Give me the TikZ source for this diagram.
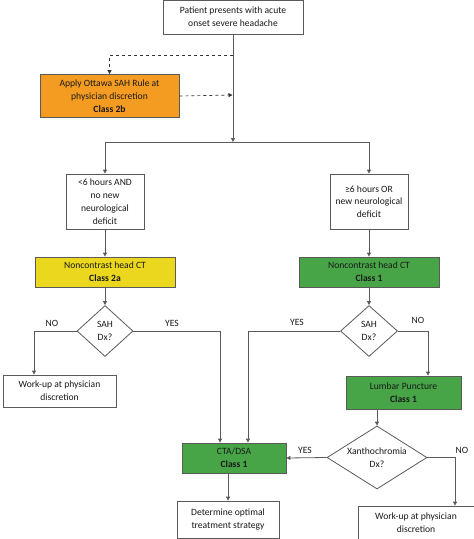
\documentclass[tikz,border=0pt]{standalone}
\usepackage{fontspec}
\setmainfont{Carlito}
\usetikzlibrary{shapes.geometric,arrows.meta}
\definecolor{lineC}{HTML}{5A5A5A}
\definecolor{dashC}{HTML}{333333}
\definecolor{orangeC}{HTML}{F49B22}
\definecolor{yellowC}{HTML}{EAD71E}
\definecolor{greenC}{HTML}{47A447}
\definecolor{txtC}{HTML}{1A1A1A}
\begin{document}
\begin{tikzpicture}[x=1pt,y=-1pt,
  font=\fontsize{9.6}{12.8}\selectfont, text=txtC,
  box/.style={draw=lineC, line width=0.8pt, align=center, inner sep=1pt, fill=white},
  dia/.style={draw=lineC, line width=0.8pt, diamond, align=center, inner sep=0pt, fill=white},
  conn/.style={draw=lineC, line width=0.8pt, -{Triangle[length=4pt,width=4pt]}},
  dconn/.style={draw=dashC, line width=0.7pt, dashed, -{Triangle[length=4pt,width=4pt]}},
  lbl/.style={inner sep=0pt}]
\useasboundingbox (0,0) rectangle (474,539);
\node[box, minimum width=140pt, minimum height=34pt] (top) at (233,17) {Patient presents with acute\\onset severe headache};
\node[box, fill=orangeC, minimum width=139pt, minimum height=43pt] (ott) at (109.5,96) {Apply Ottawa SAH Rule at\\physician discretion\\\textbf{Class 2b}};
\node[box, minimum width=78pt, minimum height=55pt] (lbox) at (105,201.5) {<6 hours AND\\no new\\neurological\\deficit};
\node[box, minimum width=78pt, minimum height=55pt] (rbox) at (369,201.5) {≥6 hours OR\\new neurological\\deficit};
\node[box, fill=yellowC, minimum width=140pt, minimum height=30pt] (ctl) at (105,272) {Noncontrast head CT\\\textbf{Class 2a}};
\node[box, fill=greenC, minimum width=140pt, minimum height=30pt] (ctr) at (369,272) {Noncontrast head CT\\\textbf{Class 1}};
\node[dia, minimum width=56pt, minimum height=51pt, aspect=1.1] (dl) at (105,331) {SAH\\Dx?};
\node[dia, minimum width=57pt, minimum height=51pt, aspect=1.1] (dr) at (369,331) {SAH\\Dx?};
\node[box, minimum width=113pt, minimum height=32pt] (wl) at (59.5,391) {Work-up at physician\\discretion};
\node[box, fill=greenC, minimum width=115pt, minimum height=33pt] (lp) at (403.5,392.5) {Lumbar Puncture\\\textbf{Class 1}};
\node[box, fill=greenC, minimum width=104pt, minimum height=30pt] (cta) at (234,458) {CTA/DSA\\\textbf{Class 1}};
\node[dia, minimum width=100pt, minimum height=63pt, aspect=1.59] (dx) at (377,457.5) {Xanthochromia\\Dx?};
\node[box, minimum width=102pt, minimum height=37pt] (det) at (228,519.5) {Determine optimal\\treatment strategy};
\node[box, minimum width=116pt, minimum height=34pt] (wr) at (416,523) {Work-up at physician\\discretion};
\coordinate (J) at (233,142);
\coordinate (d1) at (233,55);
\coordinate (d2) at (232.5,95);
% connectors
\draw[conn] (top.south) -- (J);
\draw[conn] (J) -| (lbox.north);
\draw[conn] (J) -| (rbox.north);
\draw[dconn] (d1) -| (ott.north);
\draw[dconn] (ott.east) -- (d2);
\draw[conn] (lbox.south) -- (ctl.north);
\draw[conn] (rbox.south) -- (ctr.north);
\draw[conn] (ctl.south) -- (dl.north);
\draw[conn] (ctr.south) -- (dr.north);
\draw[conn] (dl.west) -| (wl.north -| 34,0);
\draw[conn] (dl.east) -| ([xshift=-14pt]cta.north);
\draw[conn] (dr.west) -| ([xshift=14pt]cta.north);
\draw[conn] (dr.east) -| ([xshift=24.5pt]lp.north);
\draw[conn] (lp.south -| dx.north) -- (dx.north);
\draw[conn] (dx.west) -- (cta.east);
\draw[conn] (dx.east) -| ([xshift=39pt]wr.north);
\draw[conn] (cta.south -| det.north) -- (det.north);
% labels
\node[lbl] (nol) at (52,323) {NO};
\node[lbl] (yesl) at (172,323) {YES};
\node[lbl] (yesr) at (297,322) {YES};
\node[lbl] (nor) at (418,320) {NO};
\node[lbl] (yesx) at (305,450) {YES};
\node[lbl] (nox) at (462,450) {NO};
\end{tikzpicture}
\end{document}
